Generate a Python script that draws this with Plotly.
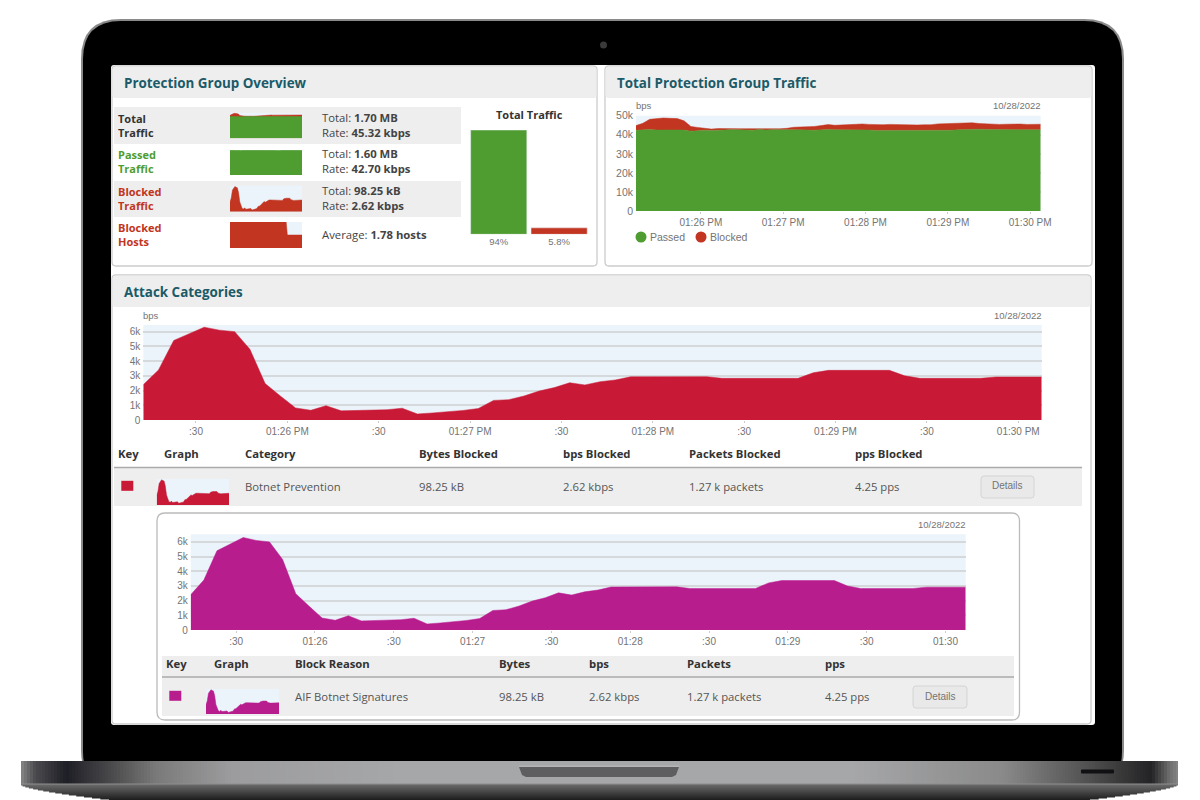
import pandas as pd
import plotly.graph_objects as go

# the page has an 8px body margin, so the figure is 8px smaller and everything is laid out in window pixels
W = 1200
H = 800
PAGE = 8

# values, one point every 5 seconds
times = pd.date_range("2022-10-28 13:25:12.7", periods=60, freq="5s")
blocked_bps = [2400, 3400, 5400, 5850, 6300, 6100, 6000, 4800, 2470, 1630,
               820, 660, 970, 620, 650, 680, 700, 800, 410, 480,
               550, 650, 780, 1330, 1380, 1630, 1970, 2200, 2530, 2380,
               2600, 2720, 2930, 2940, 2940, 2940, 2940, 2940, 2830, 2830,
               2830, 2830, 2830, 2830, 3210, 3370, 3370, 3370, 3370, 3370,
               3000, 2830, 2830, 2830, 2830, 2830, 2920, 2920, 2920, 2920]
passed_bps = [42400, 42600, 42700, 42500, 42500, 42500, 42500, 42500, 41900, 42200,
              42400, 42300, 42300, 42500, 42700, 42500, 42500, 42400, 42800, 42500,
              42700, 42500, 42600, 42600, 42700, 42500, 42400, 42600, 42800, 42600,
              42600, 42500, 42600, 42700, 42500, 42300, 42300, 42500, 42500, 42300,
              42200, 42300, 42400, 42400, 42500, 42500, 42400, 42600, 42800, 42900,
              42900, 42800, 42800, 42600, 42700, 42800, 42700, 42500, 42700, 42600]
blocked_hosts = [2] * 47 + [1] * 13
total_bps = [p + b for p, b in zip(passed_bps, blocked_bps)]

share_labels = ["94%", "5.8%"]
share_values = [94, 5.8]

traffic_ticks = ["2022-10-28 13:26:00", "2022-10-28 13:27:00", "2022-10-28 13:28:00",
                 "2022-10-28 13:29:00", "2022-10-28 13:30:00"]
traffic_tick_text = ["01:26 PM", "01:27 PM", "01:28 PM", "01:29 PM", "01:30 PM"]
traffic_y_ticks = [0, 10000, 20000, 30000, 40000, 50000]
traffic_y_text = ["0", "10k", "20k", "30k", "40k", "50k"]

attack_ticks = ["2022-10-28 13:25:30", "2022-10-28 13:26:00", "2022-10-28 13:26:30",
                "2022-10-28 13:27:00", "2022-10-28 13:27:30", "2022-10-28 13:28:00",
                "2022-10-28 13:28:30", "2022-10-28 13:29:00", "2022-10-28 13:29:30",
                "2022-10-28 13:30:00"]
attack_tick_text = [":30", "01:26 PM", ":30", "01:27 PM", ":30", "01:28 PM",
                    ":30", "01:29 PM", ":30", "01:30 PM"]
reason_tick_text = [":30", "01:26", ":30", "01:27", ":30", "01:28",
                    ":30", "01:29", ":30", "01:30"]
attack_y_ticks = [0, 1000, 2000, 3000, 4000, 5000, 6000]
attack_y_text = ["0", "1k", "2k", "3k", "4k", "5k", "6k"]

overview_names = ["Total<br>Traffic", "Passed<br>Traffic", "Blocked<br>Traffic", "Blocked<br>Hosts"]
overview_stats = ["Total: <b>1.70 MB</b><br>Rate: <b>45.32 kbps</b>",
                  "Total: <b>1.60 MB</b><br>Rate: <b>42.70 kbps</b>",
                  "Total: <b>98.25 kB</b><br>Rate: <b>2.62 kbps</b>",
                  "Average: <b>1.78 hosts</b>"]

category_head = ["Key", "Graph", "Category", "Bytes Blocked", "bps Blocked", "Packets Blocked", "pps Blocked"]
category_row = ["Botnet Prevention", "98.25 kB", "2.62 kbps", "1.27 k packets", "4.25 pps"]
reason_head = ["Key", "Graph", "Block Reason", "Bytes", "bps", "Packets", "pps"]
reason_row = ["AIF Botnet Signatures", "98.25 kB", "2.62 kbps", "1.27 k packets", "4.25 pps"]

GREEN = "#4F9D30"
RED = "#C23520"
CRIMSON = "#C81A36"
MAGENTA = "#B81D8E"
BAND = "#EBF4FA"
ROW = "#EEEEEE"
TEAL = "#1B5A68"
GREY = "#747474"
DARK = "#333333"
SANS = "Open Sans"
ARIAL = "Liberation Sans"


def px(x):
    return (x - PAGE) / (W - PAGE)


def py(y):
    return 1 - (y - PAGE) / (H - PAGE)


shapes = []
notes = []


def rect(x0, y0, x1, y1, fill, line=None, lw=0):
    shapes.append(dict(type="rect", xref="paper", yref="paper", layer="below",
                       x0=px(x0), x1=px(x1), y0=py(y0), y1=py(y1), fillcolor=fill,
                       line=dict(width=lw, color=line or fill)))


def round_rect(x0, y0, x1, y1, r, fill, line=None, lw=0):
    # corners as quadratic curves, path goes round clockwise
    pts = [("M", x0 + r, y0), ("L", x1 - r, y0), ("Q", x1, y0, x1, y0 + r),
           ("L", x1, y1 - r), ("Q", x1, y1, x1 - r, y1), ("L", x0 + r, y1),
           ("Q", x0, y1, x0, y1 - r), ("L", x0, y0 + r), ("Q", x0, y0, x0 + r, y0)]
    path = ""
    for p in pts:
        coords = []
        for i in range(1, len(p), 2):
            coords.append(f"{px(p[i]):.5f},{py(p[i + 1]):.5f}")
        path += p[0] + " ".join(coords) + " "
    shapes.append(dict(type="path", xref="paper", yref="paper", layer="below", path=path + "Z",
                       fillcolor=fill, line=dict(width=lw, color=line or fill)))


def label(x, y, text, size=11.3, color=GREY, font=SANS, anchor="left"):
    # open sans sits a little low in its line box
    if font == SANS and size < 13:
        y -= 0.7
    notes.append(dict(xref="paper", yref="paper", x=px(x), y=py(y), text=text, showarrow=False,
                      xanchor=anchor, yanchor="middle", align=anchor, borderpad=0, borderwidth=0,
                      font=dict(size=size, color=color, family=font)))


def mix(a, b, t):
    a = [int(a[i:i + 2], 16) for i in (1, 3, 5)]
    b = [int(b[i:i + 2], 16) for i in (1, 3, 5)]
    return "#%02x%02x%02x" % tuple(round(u + (v - u) * t) for u, v in zip(a, b))


def gradient_x(x0, x1, y0, y1, stops):
    # strips standing in for a horizontal gradient
    step = 3
    x = x0
    while x < x1:
        for (s0, c0), (s1, c1) in zip(stops, stops[1:]):
            if s0 <= x <= s1:
                rect(x, y0, min(x + step + 0.5, x1), y1, mix(c0, c1, (x - s0) / (s1 - s0)))
                break
        x += step


# laptop body
round_rect(81, 19, 1124, 790, 40, "#8A8A8A")
round_rect(83, 21, 1122, 790, 38, "#000000")
shapes.append(dict(type="circle", xref="paper", yref="paper", layer="below",
                   x0=px(600), x1=px(607), y0=py(41.5), y1=py(48.5),
                   fillcolor="#3A3A3A", line=dict(width=0)))

base_stops = [(21, "#808080"), (34, "#4A4A4E"), (65, "#1E1E26"), (110, "#4A4A4C"), (155, "#7A7A7A"),
              (230, "#9C9C9E"), (400, "#A6A7A9"), (850, "#A6A7A9"), (1000, "#8A8A8A"), (1090, "#4E4E4E"),
              (1150, "#232325"), (1168, "#6E6E6E"), (1178, "#888888")]
gradient_x(21, 1178, 761, 785, base_stops)
for k in range(16):
    t = k / 15
    inset = 88 * t ** 1.5
    rect(21 + inset, 784 + k, 1178 - inset, 785.5 + k, mix("#6A6A6A", "#1F1F1F", t))
rect(21, 783.5, 1178, 784.5, "#8E8E8E")
rect(519, 765.5, 679, 767.5, "#B4B4B6")
notch = [(519, 767), (679, 767), (676, 775), (672, 777), (526, 777), (522, 775)]
shapes.append(dict(type="path", xref="paper", yref="paper", layer="below", fillcolor="#5E5E60",
                   line=dict(width=0),
                   path="M" + " L".join(f"{px(a):.5f},{py(b):.5f}" for a, b in notch) + " Z"))
round_rect(1081, 769.5, 1114, 773.5, 1, "#111114")

# screen and panels
round_rect(111, 65, 1095, 725, 3, "#FFFFFF")
for box in [(112, 66, 597, 266), (605, 66, 1092, 266), (112, 275, 1091, 724)]:
    round_rect(box[0], box[1], box[2], box[3], 4, "#FFFFFF", "#CCCCCC", 1.3)
round_rect(112.5, 66.5, 596.5, 98, 3, ROW)
round_rect(605.5, 66.5, 1091.5, 98, 3, ROW)
round_rect(112.5, 275.5, 1090.5, 307, 3, ROW)

label(123.5, 83, "<b>Protection Group Overview</b>", 13.4, TEAL)
label(616.5, 83, "<b>Total Protection Group Traffic</b>", 13.4, TEAL)
label(123.5, 292, "<b>Attack Categories</b>", 13.4, TEAL)

# overview rows
rect(114, 107, 461, 144, ROW)
rect(114, 181, 461, 217, ROW)
name_colors = [DARK, GREEN, RED, RED]
name_y = [126, 162, 199, 235]
for name, stat, color, y in zip(overview_names, overview_stats, name_colors, name_y):
    label(118, y, f"<b>{name}</b>", 11, color)
    label(322, y, stat, 11.3, "#444444")
label(529, 115, "<b>Total Traffic</b>", 11, DARK, anchor="center")

# legend and captions of the traffic chart
for cx, color, name in [(641, GREEN, "Passed"), (701, RED, "Blocked")]:
    shapes.append(dict(type="circle", xref="paper", yref="paper", layer="below",
                       x0=px(cx - 5.5), x1=px(cx + 5.5), y0=py(231.5), y1=py(242.5),
                       fillcolor=color, line=dict(width=0)))
    label(cx + 9, 237, name, 10.5, GREY, ARIAL)
label(636, 105.5, "bps", 9.5, GREY, ARIAL)
label(1040.5, 105.5, "10/28/2022", 9.5, GREY, ARIAL, "right")
label(142.5, 315, "bps", 9.5, GREY, ARIAL)
label(1041.5, 315, "10/28/2022", 9.5, GREY, ARIAL, "right")
label(965.5, 524.5, "10/28/2022", 9.5, GREY, ARIAL, "right")


def table(head, row, head_x, row_x, y_head, y_line, y_row, x0, x1, y_end, key_x, color, button):
    rect(x0, y_line, x1, y_end, ROW)
    rect(x0, y_line - 0.7, x1, y_line + 0.7, "#AAAAAA")
    for name, x in zip(head, head_x):
        label(x, y_head, f"<b>{name}</b>", 11.3, DARK)
    for text, x in zip(row, row_x):
        label(x, y_row, text, 11.3, "#555555")
    rect(key_x, y_row - 6.2, key_x + 12, y_row + 3.8, color)
    round_rect(button[0], y_row - 11, button[1], y_row + 11, 3, "#E9E9E9", "#D4D4D4", 1)
    label((button[0] + button[1]) / 2, y_row - 1, "Details", 10, GREY, ARIAL, "center")


table(category_head, category_row, [118, 164, 245, 419, 563, 689, 855], [245, 419, 563, 689, 855],
      454, 467.5, 487, 114, 1082, 506, 121.3, CRIMSON, (981, 1034))
round_rect(157, 513, 1019.5, 720, 8, "#FFFFFF", "#BBBBBB", 1.3)
rect(162, 656, 1014, 677, ROW)
table(reason_head, reason_row, [166, 214, 295, 499, 589, 687, 825], [295, 499, 589, 687, 825],
      664, 677, 697, 162, 1014, 716, 169.3, MAGENTA, (913, 967))

fig = go.Figure()
axes = {}
n_axes = 0


def new_axes(box, xa, ya, band=BAND):
    # box is left, top, right, bottom of the plot area in window pixels
    global n_axes
    n_axes += 1
    n = n_axes
    if band:
        rect(box[0], box[1], box[2], box[3], band)
    axes[f"xaxis{n}"] = dict(domain=[px(box[0]), px(box[2])], anchor=f"y{n}", **xa)
    axes[f"yaxis{n}"] = dict(domain=[py(box[3]), py(box[1])], anchor=f"x{n}", **ya)
    return f"x{n}", f"y{n}"


def chart_axes(box, x_ticks, x_text, y_ticks, y_text, top, y_size=10):
    tick_font = dict(size=10, color=GREY, family=ARIAL)
    xa = dict(type="date", range=[times[0], times[-1]], tickmode="array", tickvals=x_ticks, ticktext=x_text,
              ticks="outside", ticklen=2, tickcolor="#CCCCCC", tickwidth=1, tickfont=tick_font,
              showgrid=False, showline=False, zeroline=False, fixedrange=True)
    ya = dict(range=[0, top], tickmode="array", tickvals=y_ticks, ticktext=y_text,
              tickfont=dict(size=y_size, color=GREY, family=ARIAL),
              showgrid=True, gridcolor="#D6D9DC", gridwidth=1.5, showline=False, zeroline=False,
              ticks="", ticklabelstandoff=2, fixedrange=True)
    return new_axes(box, xa, ya)


def area(xy, values, color):
    fig.add_trace(go.Scatter(x=times, y=values, xaxis=xy[0], yaxis=xy[1], mode="lines", fill="tozeroy",
                             fillcolor=color, line=dict(color=color, width=0.5), showlegend=False,
                             hoverinfo="skip"))


def spark(box, series, colors, top):
    off = dict(visible=False, fixedrange=True)
    xy = new_axes(box, dict(range=[times[0], times[-1]], type="date", **off), dict(range=[0, top], **off))
    for values, color in zip(series, colors):
        area(xy, values, color)


# total traffic, stacked
xy = chart_axes((636, 115.7, 1040.7, 211), traffic_ticks, traffic_tick_text, traffic_y_ticks, traffic_y_text,
                50000, y_size=10.5)
for values, color in [(passed_bps, GREEN), (blocked_bps, RED)]:
    fig.add_trace(go.Scatter(x=times, y=values, xaxis=xy[0], yaxis=xy[1], mode="lines", stackgroup="one",
                             fillcolor=color, line=dict(color=color, width=0.5), showlegend=False,
                             hoverinfo="skip"))

# attack category and block reason
xy = chart_axes((143.3, 325, 1041.7, 420), attack_ticks, attack_tick_text, attack_y_ticks, attack_y_text, 6450)
area(xy, blocked_bps, CRIMSON)
xy = chart_axes((190.7, 534.3, 965.7, 630), attack_ticks, reason_tick_text, attack_y_ticks, attack_y_text, 6520)
area(xy, blocked_bps, MAGENTA)

# total traffic share
xy = new_axes((468.55, 130, 589.3, 234.3),
              dict(type="category", range=[-0.5, 1.5], tickfont=dict(size=9.5, color=GREY, family=ARIAL),
                   showgrid=False, showline=False, zeroline=False, ticks="", fixedrange=True),
              dict(range=[0, 94], visible=False, fixedrange=True), band=None)
fig.add_trace(go.Bar(x=share_labels, y=share_values, xaxis=xy[0], yaxis=xy[1], marker_color=[GREEN, RED],
                     width=0.93, showlegend=False, hoverinfo="skip"))

# sparklines
spark((230, 112.7, 302, 138.3), [total_bps, passed_bps], [RED, GREEN], 50000)
spark((230, 150, 302, 175), [passed_bps], [GREEN], 43000)
spark((230, 185.7, 302, 211.7), [blocked_bps], [RED], 6500)
spark((230, 222, 302, 248), [blocked_hosts], [RED], 2)
spark((156.7, 479, 229, 505), [blocked_bps], [CRIMSON], 6500)
spark((206, 689, 279, 714), [blocked_bps], [MAGENTA], 6500)

fig.update_layout(width=W - PAGE, height=H - PAGE, paper_bgcolor="#FFFFFF", plot_bgcolor="rgba(0,0,0,0)",
                  margin=dict(l=0, r=0, t=0, b=0, pad=0, autoexpand=False), showlegend=False,
                  shapes=shapes, annotations=notes, bargap=0.07, **axes)

fig.write_html("out.html")
